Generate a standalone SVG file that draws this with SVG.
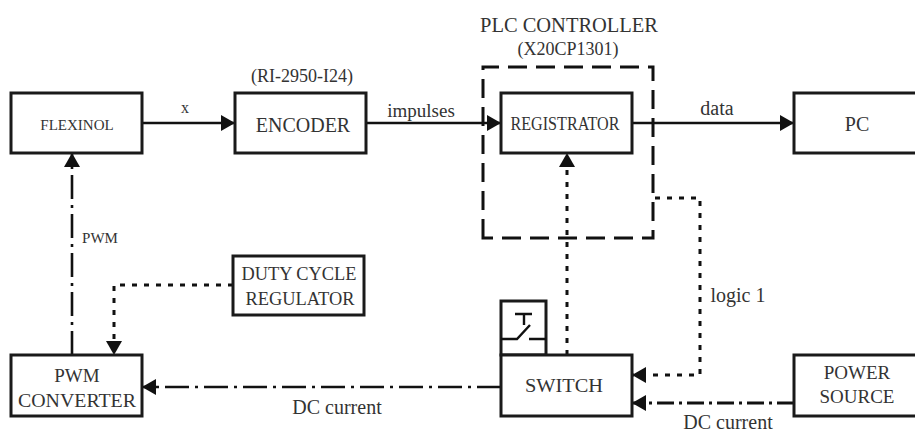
<svg xmlns="http://www.w3.org/2000/svg" width="915" height="434" viewBox="0 0 915 434">
<style>
text{font-family:"Liberation Serif","Times New Roman",serif;fill:#333;text-anchor:middle}
.box{fill:#fff;stroke:#1a1a1a;stroke-width:3}
.s{fill:none;stroke:#111;stroke-width:2.6}
.dd{fill:none;stroke:#111;stroke-width:2.6;stroke-dasharray:24 6 3 6}
.dd2{fill:none;stroke:#111;stroke-width:2.8;stroke-dasharray:17 5 3 5}
.dot{fill:none;stroke:#111;stroke-width:3;stroke-dasharray:5 7}
.dash{fill:none;stroke:#111;stroke-width:3;stroke-dasharray:19 9}
.t15{font-size:15px}.t16{font-size:16px}.t18{font-size:18px}.t19{font-size:19px}.t20{font-size:20px}
</style>
<defs>
<marker id="a" markerUnits="userSpaceOnUse" markerWidth="16" markerHeight="18" refX="14" refY="9" orient="auto"><path d="M0 1 L14 9 L0 17 Z" fill="#111"/></marker>
</defs>
<g id="plc-frame">
<path class="dash" d="M483 238V67H653V238Z"/>
<text class="t20" x="569" y="32" textLength="178" lengthAdjust="spacingAndGlyphs">PLC CONTROLLER</text>
<text class="t18" x="568" y="55">(X20CP1301)</text>
</g>
<g id="connectors">
<path class="s" d="M142 123H235" marker-end="url(#a)"/>
<path class="s" d="M366 123H501" marker-end="url(#a)"/>
<path class="s" d="M632 123H794" marker-end="url(#a)"/>
<path class="dd" d="M72 355V153" marker-end="url(#a)"/>
<path class="dot" d="M233 285H114V355" marker-end="url(#a)"/>
<path class="dot" d="M567 355V153" marker-end="url(#a)"/>
<path class="dot" d="M655 198H700V375H632" marker-end="url(#a)"/>
<path class="dd" d="M501 387H142" marker-end="url(#a)"/>
<path class="dd2" d="M794 403H632" marker-end="url(#a)"/>
</g>
<g id="flexinol"><rect class="box" x="11" y="93" width="131" height="60"/><text class="t15" x="77" y="130">FLEXINOL</text></g>
<g id="encoder"><rect class="box" x="235" y="93" width="131" height="60"/><text class="t20" x="303" y="132">ENCODER</text><text class="t18" x="302" y="82">(RI-2950-I24)</text></g>
<g id="registrator"><rect class="box" x="501" y="93" width="131" height="60"/><text class="t18" x="565" y="130" textLength="109" lengthAdjust="spacingAndGlyphs">REGISTRATOR</text></g>
<g id="pc"><rect class="box" x="794" y="93" width="130" height="60"/><text class="t20" x="857" y="131">PC</text></g>
<g id="duty-cycle-regulator"><rect class="box" x="233" y="256" width="131" height="59"/><text class="t18" x="299" y="280" textLength="115" lengthAdjust="spacingAndGlyphs">DUTY CYCLE</text><text class="t18" x="300" y="305" textLength="109" lengthAdjust="spacingAndGlyphs">REGULATOR</text></g>
<g id="pwm-converter"><rect class="box" x="11" y="355" width="131" height="61"/><text class="t19" x="77" y="382">PWM</text><text class="t18" x="77" y="407" textLength="118" lengthAdjust="spacingAndGlyphs">CONVERTER</text></g>
<g id="switch"><rect class="box" x="501" y="301" width="45" height="54"/><path class="s" style="stroke-width:2.4" d="M501 339H517L530 325M515 314H532M524 314V325M529 339H546"/><rect class="box" x="501" y="355" width="131" height="61"/><text class="t18" x="564" y="392" textLength="78" lengthAdjust="spacingAndGlyphs">SWITCH</text></g>
<g id="power-source"><rect class="box" x="794" y="355" width="130" height="61"/><text class="t19" x="857" y="379">POWER</text><text class="t19" x="857" y="403">SOURCE</text></g>
<g id="labels">
<text class="t16" x="185" y="113">x</text>
<text class="t19" x="421" y="117">impulses</text>
<text class="t20" x="717" y="115">data</text>
<text class="t15" x="100" y="243">PWM</text>
<text class="t20" x="337" y="414">DC current</text>
<text class="t20" x="738" y="302">logic 1</text>
<text class="t20" x="728" y="429">DC current</text>
</g>
</svg>
